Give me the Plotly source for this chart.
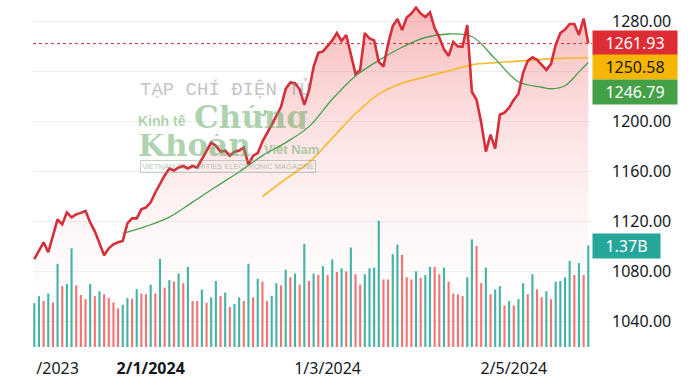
import plotly.graph_objects as go

# ---------------- data ----------------
price = [
    1089.4, 1096.6, 1103.0, 1095.0, 1107.7, 1121.3, 1117.3, 1126.9, 1122.9, 1125.3,
    1126.5, 1128.1, 1118.9, 1111.7, 1102.2, 1092.6, 1098.2, 1101.4, 1103.0, 1104.0,
    1118.1, 1122.1, 1122.1, 1129.3, 1130.9, 1134.9, 1142.8, 1150.0, 1156.4, 1162.0,
    1160.4, 1162.8, 1164.0, 1162.0, 1164.0, 1162.8, 1169.2, 1175.5, 1182.7, 1180.3,
    1175.5, 1176.3, 1172.3, 1175.5, 1176.3, 1178.7, 1165.2, 1172.3, 1174.3, 1183.5,
    1189.9, 1197.1, 1204.2, 1211.4, 1225.7, 1230.9, 1230.3, 1225.4, 1213.0, 1224.2,
    1243.3, 1254.5, 1255.7, 1260.1, 1264.5, 1270.4, 1264.0, 1268.8, 1252.9, 1237.7,
    1240.9, 1270.4, 1266.0, 1264.5, 1247.3, 1243.6, 1261.7, 1276.0, 1281.6, 1272.8,
    1282.8, 1286.0, 1290.8, 1286.0, 1283.2, 1286.8, 1274.4, 1266.8, 1257.3, 1252.1,
    1263.3, 1259.7, 1259.5, 1276.8, 1223.4, 1217.0, 1198.6, 1175.5, 1189.1, 1177.9,
    1205.0, 1206.6, 1210.6, 1217.0, 1221.8, 1238.5, 1248.1, 1250.9, 1248.9, 1244.9,
    1240.9, 1245.7, 1260.9, 1270.4, 1273.2, 1277.6, 1277.6, 1268.8, 1282.0, 1261.93,
]

volume_b = [
    0.59, 0.685, 0.62, 0.72, 0.60, 1.12, 0.82, 0.85, 1.33, 0.83,
    0.70, 0.645, 0.85, 0.685, 0.75, 0.71, 0.66, 0.60, 0.52, 0.57,
    0.66, 0.65, 0.78, 0.72, 0.71, 0.84, 0.72, 1.19, 0.80, 0.90,
    0.88, 0.99, 0.86, 1.08, 0.62, 0.62, 0.775, 0.595, 0.67, 0.89,
    0.685, 0.735, 0.54, 0.58, 0.67, 0.62, 1.12, 0.67, 0.92, 0.88,
    0.62, 0.69, 0.86, 0.83, 1.04, 0.94, 0.99, 0.84, 1.39, 0.89,
    0.99, 0.97, 1.09, 0.97, 1.18, 1.01, 1.06, 1.02, 1.34, 0.98,
    0.84, 0.98, 1.06, 1.07, 1.70, 0.91, 0.91, 1.25, 1.38, 1.24,
    0.94, 0.91, 1.02, 0.93, 0.97, 1.08, 1.08, 0.98, 1.07, 0.88,
    0.72, 0.71, 0.685, 0.94, 1.45, 1.36, 0.86, 1.07, 0.71, 0.775,
    0.82, 0.56, 0.62, 0.56, 0.645, 0.86, 0.71, 0.98, 0.775, 0.67,
    0.75, 0.645, 0.88, 0.89, 0.94, 1.16, 0.97, 1.13, 0.97, 1.37,
]

# U = up (teal), D = down (red)
volume_dir = (
    "UUDUDUDUUD" "DDUDUDDDDU" "UDUDDUDUDU" "DUDUDDUDUU"
    "DUDUUDUDUD" "DUUDUDUDUD" "UDUDUDUDUD" "DUUUUDDUUD"
    "DDUDUUDDUD" "DDDUUDDUDU" "UDUDUUDUDD" "UDUUUUDUDU"
)

ma20_idx = [19, 24, 29, 34, 39, 44, 49, 54, 59, 64, 69, 74, 79, 84, 89, 94, 99,
            104, 109, 111, 114, 117, 119]
ma20 = [1110.1, 1115.7, 1123.1, 1135.1, 1147.4, 1159.2, 1172.3, 1182.7, 1195.5,
        1217.4, 1236.1, 1248.5, 1259.0, 1266.8, 1269.6, 1267.6, 1249.7, 1231.4,
        1227.0, 1225.8, 1228.2, 1239.3, 1246.79]

ma50_idx = [49, 54, 59, 64, 69, 74, 79, 84, 89, 94, 99, 104, 109, 114, 119]
ma50 = [1139.6, 1153.6, 1166.8, 1186.3, 1205.8, 1221.5, 1230.2, 1235.3, 1240.1,
        1244.9, 1246.7, 1247.9, 1249.3, 1250.3, 1250.58]

x_tick_pos = [5, 25, 63, 103]
x_tick_text = ["/2023", "<b>2/1/2024</b>", "1/3/2024", "2/5/2024"]

y_ticks = [1040, 1080, 1120, 1160, 1200, 1240, 1280]
y_tick_text = ["1040.00", "1080.00", "1120.00", "1160.00", "1200.00", "", "1280.00"]

last_price = 1261.93
last_ma50 = 1250.58
last_ma20 = 1246.79
last_volume_text = "1.37B"

# ---------------- layout geometry ----------------
W, H = 700, 388
L, R, T, B = 33, 108, 0, 38
PW, PH = W - L - R, H - T - B


def px(x):
    return (x - L) / PW


def py(y):
    return 1 - (y - T) / PH


n = len(price)
xs = list(range(n))

TEAL = "rgba(38,166,154,0.85)"
RED = "rgba(239,83,80,0.8)"
bar_colors = [TEAL if d == "U" else RED for d in volume_dir]

FONT = "Noto Sans"

fig = go.Figure()

# gradient area under the price
fig.add_trace(go.Scatter(
    x=xs, y=price, mode="lines", line=dict(width=0, color="rgba(0,0,0,0)"),
    fill="tozeroy",
    fillgradient=dict(type="vertical", start=1016.8, stop=1292,
                      colorscale=[[0, "rgba(255,255,255,0)"],
                                  [1, "rgba(236,70,70,0.38)"]]),
    hoverinfo="skip",
))

# moving averages
fig.add_trace(go.Scatter(
    x=ma50_idx, y=ma50, mode="lines", line=dict(color="rgb(248,186,45)", width=1.6, shape="spline"),
))
fig.add_trace(go.Scatter(
    x=ma20_idx, y=ma20, mode="lines", line=dict(color="rgb(70,160,75)", width=1.3, shape="spline"),
))

# price line
fig.add_trace(go.Scatter(
    x=xs, y=price, mode="lines", line=dict(color="#d62f3a", width=2.6),
))

# volume
fig.add_trace(go.Bar(
    x=xs, y=volume_b, marker=dict(color=bar_colors, line=dict(width=0)),
    width=0.46, yaxis="y2",
))

fig.add_shape(type="line", xref="paper", x0=0, x1=1, yref="y", y0=last_price, y1=last_price,
              line=dict(color="#d62f3a", width=1, dash="dot"))

annos = []
# right-side value labels
for txt, ycen, bg, fg in [
    (f"{last_price:.2f}", 43, "rgb(222,44,52)", "white"),
    (f"{last_ma50:.2f}", 67, "rgb(246,182,0)", "#1a1a1a"),
    (f"{last_ma20:.2f}", 91.5, "rgb(67,160,71)", "white"),
]:
    annos.append(dict(xref="paper", yref="paper", x=px(592), y=py(ycen), xanchor="left",
                      yanchor="middle", text=txt, showarrow=False, bgcolor=bg,
                      font=dict(family=FONT, size=16, color=fg), width=81, height=21,
                      borderpad=1.5, align="center"))
annos.append(dict(xref="paper", yref="paper", x=px(592), y=py(245.5), xanchor="left",
                  yanchor="middle", text=last_volume_text, showarrow=False,
                  bgcolor="rgb(38,166,154)", font=dict(family=FONT, size=16, color="white"),
                  width=64, height=21, borderpad=1.5, align="center"))

# watermark
WM_G = "rgba(95,165,95,0.5)"
annos += [
    dict(xref="paper", yref="paper", x=px(226), y=py(90), xanchor="center", yanchor="middle",
         text="TẠP CHÍ ĐIỆN TỬ", showarrow=False,
         font=dict(family="Liberation Mono", size=19, color="rgba(120,120,120,0.45)")),
    dict(xref="paper", yref="paper", x=px(137), y=py(120), xanchor="left", yanchor="middle",
         text="<b>Kinh tế</b>", showarrow=False, borderpad=0, height=13,
         font=dict(family="Liberation Sans", size=14, color=WM_G)),
    dict(xref="paper", yref="paper", x=px(193), y=py(117), xanchor="left", yanchor="middle",
         text="<b>Chứng</b>", showarrow=False, borderpad=0, height=24,
         font=dict(family="DejaVu Serif", size=31, color=WM_G)),
    dict(xref="paper", yref="paper", x=px(137), y=py(145), xanchor="left", yanchor="middle",
         text="<b>Khoán</b>", showarrow=False, borderpad=0, height=22,
         font=dict(family="DejaVu Serif", size=31, color=WM_G)),
    dict(xref="paper", yref="paper", x=px(263), y=py(149), xanchor="left", yanchor="middle",
         text="<b>Việt Nam</b>", showarrow=False, borderpad=0, height=12,
         font=dict(family="Liberation Sans", size=13, color=WM_G)),
    dict(xref="paper", yref="paper", x=px(228), y=py(167), xanchor="center", yanchor="middle",
         text="VIETNAM SECURITIES ELECTRONIC MAGAZINE", showarrow=False,
         font=dict(family="Liberation Sans", size=7.5, color="rgba(110,150,110,0.55)"),
         bordercolor="rgba(130,150,130,0.45)", borderwidth=1, borderpad=1, width=172),
]

fig.update_layout(
    width=W, height=H,
    margin=dict(l=L, r=R, t=T, b=B, autoexpand=False),
    paper_bgcolor="white", plot_bgcolor="white",
    showlegend=False, barmode="overlay",
    xaxis=dict(range=[-0.28, 119.8], tickvals=x_tick_pos, ticktext=x_tick_text,
               showgrid=False, zeroline=False, showline=False, ticks="",
               tickfont=dict(family=FONT, size=16, color="#131722"),
               ticklabelstandoff=7, automargin=False),
    yaxis=dict(side="right", range=[1016.8, 1296.8], tickvals=y_ticks, ticktext=y_tick_text,
               showgrid=True, gridcolor="rgba(228,232,240,0.7)", gridwidth=1,
               zeroline=False, showline=False, ticks="",
               tickfont=dict(family=FONT, size=16, color="#131722"),
               ticklabelstandoff=19, automargin=False),
    yaxis2=dict(overlaying="y", range=[-0.04, 4.674], visible=False),
    annotations=annos,
)

fig.write_html(
    "out.html",
    config={"displayModeBar": False},
    post_script="document.body.style.margin='0';document.body.style.padding='0';"
                "document.documentElement.style.overflow='hidden';",
)
